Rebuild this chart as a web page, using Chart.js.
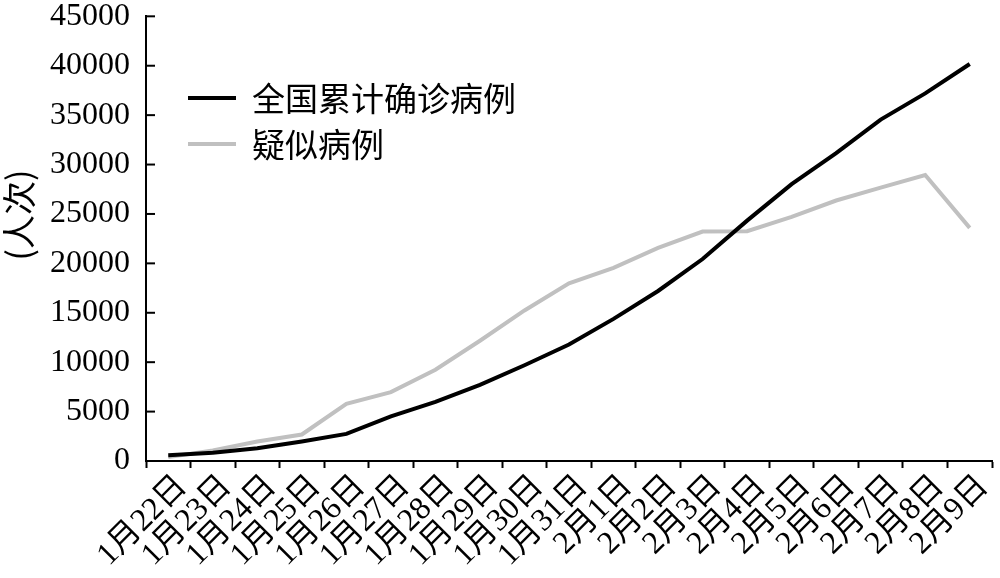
<!DOCTYPE html>
<html>
<head>
<meta charset="utf-8">
<script src="https://cdn.jsdelivr.net/npm/chart.js@4.4.0/dist/chart.umd.min.js"></script>
<style>
  html, body { margin: 0; padding: 0; background: #fff; }
  #wrap { width: 1000px; height: 578px; }
</style>
</head>
<body>
<div id="wrap"><canvas id="myChart"></canvas></div>
<script>
const dates = ["1月22日", "1月23日", "1月24日", "1月25日", "1月26日", "1月27日", "1月28日",
  "1月29日", "1月30日", "1月31日", "2月1日", "2月2日", "2月3日", "2月4日", "2月5日",
  "2月6日", "2月7日", "2月8日", "2月9日"];
const confirmed = [571, 830, 1287, 1975, 2744, 4515, 5974, 7711, 9692, 11791, 14380,
  17205, 20438, 24324, 28018, 31161, 34546, 37198, 40171];
const suspected = [393, 1072, 1965, 2684, 5794, 6973, 9239, 12167, 15238, 17988, 19544,
  21558, 23214, 23260, 24702, 26359, 27657, 28942, 23589];
const yMax = 45000;
const yStep = 5000;
const yTitle = "(人次)";

const serif = "'Liberation Serif', 'Noto Sans CJK SC', serif";
const cjk = "'Noto Sans CJK SC', 'Liberation Serif', sans-serif";

// legend, inward y ticks and y title
const extras = {
  id: "extras",
  afterDraw(chart) {
    const ctx = chart.ctx;
    const y = chart.scales.y;
    const area = chart.chartArea;
    ctx.save();

    ctx.strokeStyle = "#000";
    ctx.lineWidth = 2;
    y.ticks.forEach((t) => {
      const py = y.getPixelForValue(t.value);
      ctx.beginPath();
      ctx.moveTo(area.left, py);
      ctx.lineTo(area.left + 9, py);
      ctx.stroke();
    });

    const rows = [98, 144];
    chart.data.datasets.forEach((ds, i) => {
      ctx.strokeStyle = ds.borderColor;
      ctx.lineWidth = 4;
      ctx.beginPath();
      ctx.moveTo(188, rows[i]);
      ctx.lineTo(236, rows[i]);
      ctx.stroke();
      ctx.fillStyle = "#000";
      ctx.font = "33px " + cjk;
      ctx.textAlign = "left";
      ctx.textBaseline = "middle";
      ctx.fillText(ds.label, 252, rows[i]);
    });

    ctx.translate(19, 215);
    ctx.rotate(-Math.PI / 2);
    ctx.font = "34px " + cjk;
    ctx.textAlign = "center";
    ctx.textBaseline = "middle";
    ctx.fillStyle = "#000";
    ctx.fillText(yTitle, 0, 0);
    ctx.restore();
  },
};

const ctx = document.getElementById("myChart").getContext("2d");
const myChart = new Chart(ctx, {
  type: "line",
  data: {
    labels: dates,
    datasets: [
      {
        label: "全国累计确诊病例",
        data: confirmed,
        borderColor: "#000000",
        borderWidth: 4,
        pointRadius: 0,
        tension: 0,
      },
      {
        label: "疑似病例",
        data: suspected,
        borderColor: "#c0c0c0",
        borderWidth: 4,
        pointRadius: 0,
        tension: 0,
      },
    ],
  },
  options: {
    responsive: true,
    maintainAspectRatio: false,
    animation: false,
    layout: { padding: { top: 15, right: 8, left: 0, bottom: 0 } },
    plugins: {
      legend: { display: false },
      tooltip: { enabled: false },
    },
    scales: {
      x: {
        offset: true,
        grid: {
          offset: true,
          drawOnChartArea: false,
          drawTicks: true,
          tickLength: 7,
          tickWidth: 2,
          tickColor: "#000",
        },
        border: { color: "#000", width: 2 },
        ticks: {
          color: "#000",
          font: { family: serif, size: 32, lineHeight: 1 },
          minRotation: 45,
          maxRotation: 45,
          autoSkip: false,
          padding: 2,
          labelOffset: 14,
        },
        afterFit: (scale) => { scale.height = 117; },
      },
      y: {
        min: 0,
        max: yMax,
        grid: { drawOnChartArea: false, drawTicks: false },
        border: { color: "#000", width: 2 },
        ticks: {
          stepSize: yStep,
          color: "#000",
          padding: 16,
          font: { family: serif, size: 32, lineHeight: 0.02 },
          callback: (v) => String(v),
        },
        afterFit: (scale) => { scale.width = 146; },
      },
    },
  },
  plugins: [extras],
});
</script>
</body>
</html>
